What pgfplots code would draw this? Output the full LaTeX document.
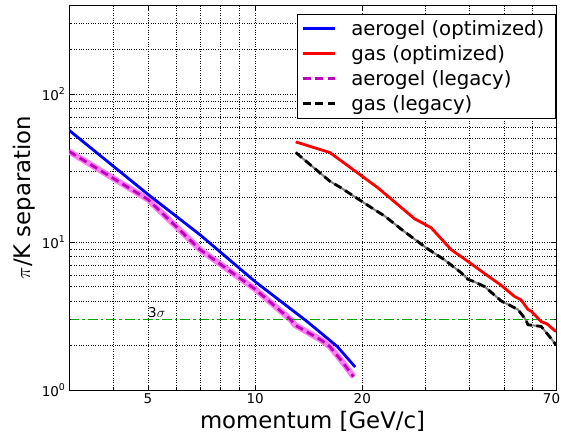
\documentclass[border=0pt]{standalone}
\usepackage{fontspec}
\setmainfont{DejaVu Sans}
\usepackage{pgfplots}
\pgfplotsset{compat=1.18}

\definecolor{mplmag}{rgb}{0.75,0,0.75}
\definecolor{bandmag}{RGB}{255,125,245}

\begin{document}
\begin{tikzpicture}
% page frame: 561 x 436
\useasboundingbox (-69pt,-46pt) rectangle (492pt,390pt);
\begin{axis}[
  scale only axis,
  width=487pt, height=385pt,
  xmode=log, ymode=log,
  xmin=3, xmax=70, ymin=1, ymax=400,
  xtick={5,10,20,70}, xticklabels={5,10,20,{70\hspace*{9pt}}},
  ytick={1,10,100},
  yticklabels={10\textsuperscript{0},10\textsuperscript{1},10\textsuperscript{2}},
  minor xtick={3,4,6,7,8,9,30,40,50,60},
  minor ytick={2,4,5,6,7,8,9,20,30,40,50,60,70,80,90,200,300,400},
  tick align=inside, xtick pos=both, ytick pos=both,
  major tick length=5pt, minor tick length=2.5pt,
  every tick/.style={black, line width=0.6pt},
  grid=both,
  major grid style={black, dotted, line width=0.6pt},
  minor grid style={black, dotted, line width=0.6pt},
  axis line style={black, line width=0.8pt},
  tick label style={font=\fontsize{13.5}{15}\selectfont},
  /pgf/number format/assume math mode=true,
  xlabel={momentum [GeV/c]},
  ylabel={$\pi$/K separation},
  label style={font=\fontsize{22.8}{25}\selectfont},
  xlabel style={yshift=-1pt},
  legend style={at={(0.999,0.976)}, anchor=north east, draw=black,
    fill=white, font=\fontsize{19.7}{23}\selectfont, inner xsep=4pt, inner ysep=5pt,
    row sep=6.5pt, column sep=8pt, nodes={inner xsep=7pt, inner ysep=1pt}},
  legend cell align=left,
  legend image code/.code={\draw[#1, line width=3pt] (0pt,0pt) -- (32pt,0pt);},
]
% uncertainty bands of legacy curves
\addplot[bandmag, line width=6pt, line join=round, forget plot] coordinates {
  (3,41) (5,19.4) (7,8.9) (10,4.8) (12.6,2.98) (12.9,2.76) (15.3,2.18) (16.2,1.97) (17.4,1.6) (18.9,1.23)
};
\addplot[gray, line width=2pt, forget plot] coordinates {
  (13.0,40.3) (16.2,25.8) (17.4,23.3) (21.6,16.6) (23.1,15.0) (26.2,11.8) (30.5,9.0) (34.0,7.6)
  (37.9,6.2) (39.6,5.6) (41.2,5.4) (44.1,5.0) (49.1,4.0) (53.5,3.6) (54.7,3.5) (57.5,3.0)
  (58.4,2.76) (63.6,2.69) (67.1,2.3) (70,2.02)
};
% 3 sigma line
\addplot[green!65!black, line width=1.6pt, dash pattern=on 10pt off 3pt on 2.5pt off 3pt, forget plot]
  coordinates {(3,3) (70,3)};
\addplot[black, line width=0.6pt, forget plot] coordinates {(3,3) (3.04,3)};
\addplot[black, line width=0.6pt, forget plot] coordinates {(69.1,3) (70,3)};
\node[anchor=base west, inner sep=0pt, yshift=1.5pt, font=\fontsize{13.5}{15}\selectfont] at (axis cs:5,3) {3$\sigma$};

\addplot[blue, line width=2.8pt] coordinates {
  (3,57) (5,21) (7,11.2) (10,5.4) (14,2.9) (17,1.97) (19.1,1.43)
};
\addlegendentry{aerogel (optimized)}
\addplot[red, line width=2.8pt] coordinates {
  (13.0,47.5) (16.2,40.3) (22.1,23.3) (28.0,14.4) (31.2,12.5) (35.5,8.9) (39.6,7.4)
  (45.2,5.87) (49.1,5.1) (53.5,4.29) (55.8,4.07) (58.4,3.5) (59.7,3.4) (63.6,2.9) (66,2.8) (70,2.48)
};
\addlegendentry{gas (optimized)}
\addplot[mplmag, line width=2.8pt, dash pattern=on 8pt off 4.5pt] coordinates {
  (3,41) (5,19.4) (7,8.9) (10,4.8) (12.6,2.98) (12.9,2.76) (15.3,2.18) (16.2,1.97) (17.4,1.6) (18.9,1.23)
};
\addlegendentry{aerogel (legacy)}
\addplot[black, line width=2.8pt, dash pattern=on 8pt off 4.5pt] coordinates {
  (13.0,40.3) (16.2,25.8) (17.4,23.3) (21.6,16.6) (23.1,15.0) (26.2,11.8) (30.5,9.0) (34.0,7.6)
  (37.9,6.2) (39.6,5.6) (41.2,5.4) (44.1,5.0) (49.1,4.0) (53.5,3.6) (54.7,3.5) (57.5,3.0)
  (58.4,2.76) (63.6,2.69) (67.1,2.3) (70,2.02)
};
\addlegendentry{gas (legacy)}
\end{axis}
\end{tikzpicture}
\end{document}
